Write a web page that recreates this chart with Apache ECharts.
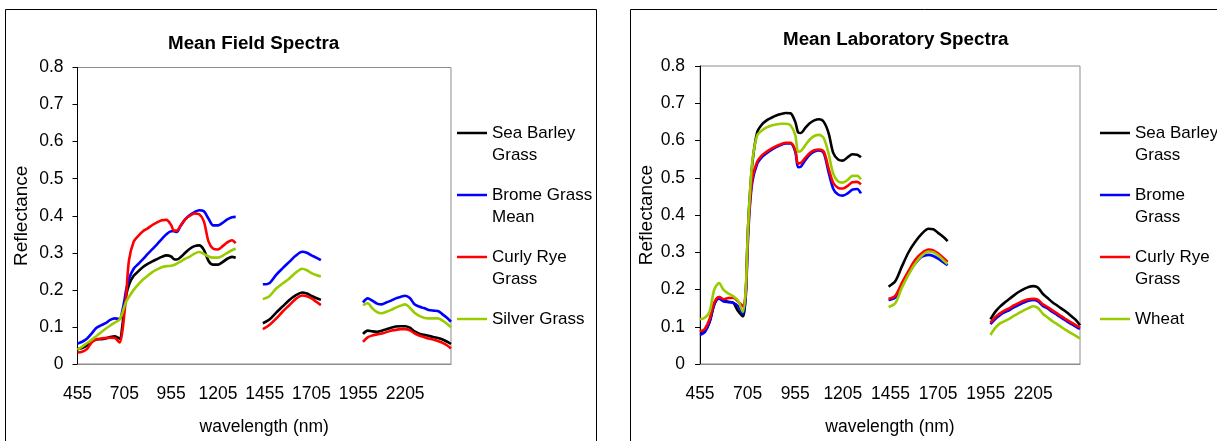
<!DOCTYPE html>
<html>
<head>
<meta charset="utf-8">
<script src="https://cdn.jsdelivr.net/npm/echarts@6/dist/echarts.min.js"></script>
<style>
html,body{margin:0;padding:0;background:#fff;}
#c{width:1217px;height:441px;}
</style>
</head>
<body>
<div id="c"></div>
<script>
// ---- data (wavelength in nm; null = removed water-absorption band) ----
const wavelengths = [
  455,480,505,530,555,580,605,630,655,680,
  695,705,715,730,755,780,805,830,855,880,
  905,930,955,970,985,1005,1030,1055,1080,1105,
  1130,1155,1180,1205,1230,1255,1280,1300,
  1370,
  1445,1480,1515,1550,1585,1620,1655,1680,1705,1730,1755,
  1870,
  1980,2005,2030,2055,2080,2105,2130,2155,2180,2205,
  2230,2255,2280,2305,2330,2355,2380,2405,2430,2450
];
const xTickLabels = [455,705,955,1205,1455,1705,1955,2205];
const yTicks = [0,0.1,0.2,0.3,0.4,0.5,0.6,0.7,0.8];

const fieldTitle = 'Mean Field Spectra';
const labTitle = 'Mean Laboratory Spectra';
const fieldNames = ['Sea Barley Grass','Brome Grass Mean','Curly Rye Grass','Silver Grass'];
const fieldLegendText = ['Sea Barley\nGrass','Brome Grass\nMean','Curly Rye\nGrass','Silver Grass'];
const labNames = ['Sea Barley Grass','Brome Grass','Curly Rye Grass','Wheat'];
const labLegendText = ['Sea Barley\nGrass','Brome\nGrass','Curly Rye\nGrass','Wheat'];
const seriesColors = ['#000000','#0000FF','#FF0000','#99CC00'];

// Mean Field Spectra
const fieldSeaBarley = [
  0.040,0.043,0.050,0.062,0.066,0.067,0.069,0.073,0.075,0.068,
  0.105,0.150,0.185,0.214,0.238,0.250,0.262,0.270,0.277,0.283,
  0.289,0.293,0.290,0.283,0.282,0.288,0.300,0.311,0.318,0.320,
  0.308,0.278,0.268,0.268,0.275,0.284,0.289,0.287,
  null,
  0.110,0.120,0.138,0.155,0.172,0.185,0.193,0.190,0.184,0.178,0.173,
  null,
  0.081,0.090,0.088,0.087,0.090,0.094,0.098,0.101,0.102,0.102,
  0.098,0.088,0.082,0.079,0.076,0.073,0.070,0.066,0.060,0.054
];
const fieldBrome = [
  0.055,0.060,0.068,0.082,0.097,0.104,0.110,0.119,0.123,0.121,
  0.145,0.170,0.200,0.230,0.257,0.270,0.283,0.297,0.310,0.323,
  0.337,0.350,0.358,0.358,0.356,0.372,0.390,0.402,0.410,0.415,
  0.412,0.392,0.374,0.374,0.381,0.390,0.396,0.397,
  null,
  0.215,0.218,0.240,0.258,0.275,0.292,0.303,0.300,0.293,0.287,0.280,
  null,
  0.166,0.177,0.171,0.163,0.161,0.166,0.171,0.177,0.181,0.184,
  0.178,0.161,0.155,0.151,0.146,0.144,0.143,0.134,0.124,0.114
];
const fieldCurlyRye = [
  0.031,0.033,0.040,0.058,0.066,0.069,0.070,0.071,0.070,0.058,
  0.090,0.135,0.185,0.280,0.330,0.346,0.358,0.366,0.375,0.382,
  0.388,0.389,0.375,0.360,0.360,0.373,0.390,0.400,0.406,0.404,
  0.385,0.330,0.311,0.309,0.318,0.328,0.334,0.326,
  null,
  0.094,0.105,0.122,0.141,0.158,0.175,0.185,0.183,0.177,0.168,0.159,
  null,
  0.060,0.072,0.077,0.080,0.082,0.086,0.090,0.092,0.094,0.094,
  0.091,0.083,0.077,0.073,0.069,0.066,0.062,0.057,0.050,0.042
];
const fieldSilver = [
  0.038,0.047,0.056,0.065,0.075,0.085,0.095,0.104,0.112,0.120,
  0.138,0.155,0.168,0.181,0.200,0.215,0.228,0.238,0.248,0.255,
  0.261,0.264,0.265,0.267,0.271,0.276,0.284,0.290,0.298,0.302,
  0.297,0.290,0.287,0.287,0.292,0.300,0.307,0.311,
  null,
  0.175,0.183,0.203,0.217,0.230,0.246,0.257,0.253,0.245,0.240,0.236,
  null,
  0.159,0.164,0.150,0.140,0.137,0.141,0.146,0.152,0.157,0.161,
  0.152,0.138,0.130,0.125,0.123,0.123,0.123,0.117,0.108,0.099
];

// Mean Laboratory Spectra
const labSeaBarley = [
  0.085,0.090,0.112,0.160,0.180,0.170,0.167,0.164,0.142,0.128,
  0.190,0.340,0.440,0.540,0.622,0.643,0.654,0.661,0.667,0.671,
  0.674,0.673,0.650,0.622,0.620,0.632,0.646,0.654,0.657,0.650,
  0.620,0.566,0.549,0.546,0.555,0.563,0.562,0.555,
  null,
  0.208,0.222,0.262,0.300,0.328,0.350,0.363,0.362,0.352,0.342,0.330,
  null,
  0.120,0.140,0.154,0.165,0.175,0.185,0.194,0.201,0.207,0.209,
  0.205,0.188,0.177,0.166,0.157,0.148,0.139,0.128,0.117,0.104
];
const labBrome = [
  0.078,0.085,0.113,0.160,0.175,0.168,0.166,0.164,0.155,0.135,
  0.180,0.310,0.410,0.490,0.537,0.555,0.566,0.575,0.582,0.588,
  0.592,0.592,0.570,0.528,0.530,0.545,0.561,0.570,0.573,0.566,
  0.515,0.470,0.455,0.452,0.458,0.468,0.470,0.458,
  null,
  0.172,0.178,0.210,0.243,0.270,0.288,0.293,0.290,0.283,0.274,0.265,
  null,
  0.107,0.121,0.131,0.139,0.145,0.153,0.159,0.165,0.170,0.172,
  0.168,0.156,0.149,0.140,0.132,0.123,0.115,0.107,0.100,0.094
];
const labCurlyRye = [
  0.087,0.094,0.120,0.165,0.180,0.174,0.177,0.178,0.168,0.155,
  0.190,0.330,0.420,0.500,0.543,0.560,0.570,0.578,0.585,0.590,
  0.594,0.594,0.575,0.538,0.540,0.552,0.566,0.574,0.576,0.570,
  0.525,0.486,0.473,0.471,0.478,0.488,0.489,0.482,
  null,
  0.175,0.183,0.218,0.250,0.280,0.298,0.307,0.305,0.297,0.286,0.274,
  null,
  0.111,0.126,0.136,0.144,0.150,0.158,0.164,0.170,0.174,0.175,
  0.172,0.160,0.153,0.144,0.136,0.127,0.119,0.111,0.104,0.098
];
const labWheat = [
  0.120,0.124,0.140,0.200,0.217,0.198,0.189,0.182,0.170,0.140,
  0.200,0.340,0.440,0.545,0.614,0.627,0.635,0.640,0.643,0.645,
  0.645,0.641,0.615,0.570,0.572,0.585,0.602,0.612,0.615,0.606,
  0.565,0.510,0.490,0.487,0.494,0.505,0.505,0.496,
  null,
  0.153,0.163,0.205,0.240,0.270,0.291,0.302,0.300,0.292,0.280,0.268,
  null,
  0.078,0.097,0.109,0.115,0.122,0.130,0.137,0.144,0.150,0.155,
  0.150,0.135,0.125,0.115,0.107,0.098,0.090,0.082,0.075,0.069
];

const fieldData = [fieldSeaBarley, fieldBrome, fieldCurlyRye, fieldSilver];
const labData = [labSeaBarley, labBrome, labCurlyRye, labWheat];

// ---- chart ----
const FONT = '"Liberation Sans", Arial, sans-serif';
const chart = echarts.init(document.getElementById('c'), null, {renderer: 'canvas'});

function makeSeries(name, vals, color, idx) {
  return {
    type: 'line', name: name,
    xAxisIndex: idx, yAxisIndex: idx,
    data: wavelengths.map((w, i) => [w, vals[i] === null ? '-' : vals[i]]),
    showSymbol: false, symbol: 'none',
    smooth: 0.3, connectNulls: false,
    lineStyle: {width: 2.6, color: color},
    itemStyle: {color: color},
    silent: true, animation: false
  };
}

function xAxisCfg(idx, gap) {
  return {
    type: 'value', gridIndex: idx, min: 455, max: 2450,
    name: 'wavelength (nm)', nameLocation: 'middle', nameGap: gap,
    nameTextStyle: {fontFamily: FONT, fontSize: 17.5, color: '#000'},
    axisLine: {show: true, onZero: false, lineStyle: {color: '#8c8c8c', width: 1}},
    axisTick: {show: false},
    axisLabel: {customValues: xTickLabels, fontFamily: FONT, fontSize: 17.5, color: '#000', margin: 21,
      formatter: v => String(v)},
    splitLine: {show: false}
  };
}
function yAxisCfg(idx, gap, margin) {
  return {
    type: 'value', gridIndex: idx, min: 0, max: 0.8, interval: 0.1,
    name: 'Reflectance', nameLocation: 'middle', nameGap: gap, nameRotate: 90,
    nameTextStyle: {fontFamily: FONT, fontSize: 19, color: '#000'},
    axisLine: {show: true, lineStyle: {color: '#000', width: 1}},
    axisTick: {show: true, inside: false, length: 5, lineStyle: {color: '#000'}, customValues: yTicks},
    axisLabel: {customValues: yTicks, fontFamily: FONT, fontSize: 17.5, color: '#000', margin: margin,
      formatter: v => (v === 0 ? '0' : v.toFixed(1))},
    splitLine: {show: false}
  };
}
function legendCfg(names, texts, left) {
  return {
    show: true, orient: 'vertical', left: left, top: 100, padding: 0,
    itemGap: -4, itemWidth: 30, itemHeight: 2.5, icon: 'rect',
    data: names,
    selectedMode: false,
    textStyle: {fontFamily: FONT, fontSize: 17, color: '#000', lineHeight: 22},
    formatter: n => {
      const t = texts[names.indexOf(n)];
      return t.indexOf('\n') >= 0 ? '\n' + t : '\n' + t + '\n ';
    }
  };
}

const option = {
  backgroundColor: '#fff',
  animation: false,
  title: [
    {text: fieldTitle, left: 168, top: 34, padding: 0,
     textStyle: {fontFamily: FONT, fontSize: 18.8, fontWeight: 'bold', color: '#000'}},
    {text: labTitle, left: 783, top: 30, padding: 0,
     textStyle: {fontFamily: FONT, fontSize: 18.8, fontWeight: 'bold', color: '#000'}}
  ],
  grid: [
    {left: 77.5, top: 67.5, width: 373.5, height: 297.5, show: true, borderColor: '#8c8c8c', borderWidth: 1, backgroundColor: 'transparent', containLabel: false},
    {left: 700, top: 66, width: 380, height: 301.7, show: true, borderColor: '#8c8c8c', borderWidth: 1, backgroundColor: 'transparent', containLabel: false}
  ],
  xAxis: [xAxisCfg(0, 54), xAxisCfg(1, 54)],
  yAxis: [yAxisCfg(0, 46, 14), yAxisCfg(1, 44, 15)],
  legend: [
    legendCfg(fieldNames, fieldLegendText, 457),
    legendCfg(labNames, labLegendText, 1100)
  ],
  graphic: [
    {type: 'rect', silent: true, z: -10, shape: {x: 5.5, y: 9.5, width: 591, height: 470},
     style: {fill: 'none', stroke: '#000', lineWidth: 1}},
    {type: 'rect', silent: true, z: -10, shape: {x: 630.5, y: 9.5, width: 640, height: 470},
     style: {fill: 'none', stroke: '#000', lineWidth: 1}}
  ],
  series: [
    ...fieldNames.map((n, i) => makeSeries(n, fieldData[i], seriesColors[i], 0)),
    ...labNames.map((n, i) => makeSeries(n, labData[i], seriesColors[i], 1))
  ]
};
chart.setOption(option);
</script>
</body>
</html>
